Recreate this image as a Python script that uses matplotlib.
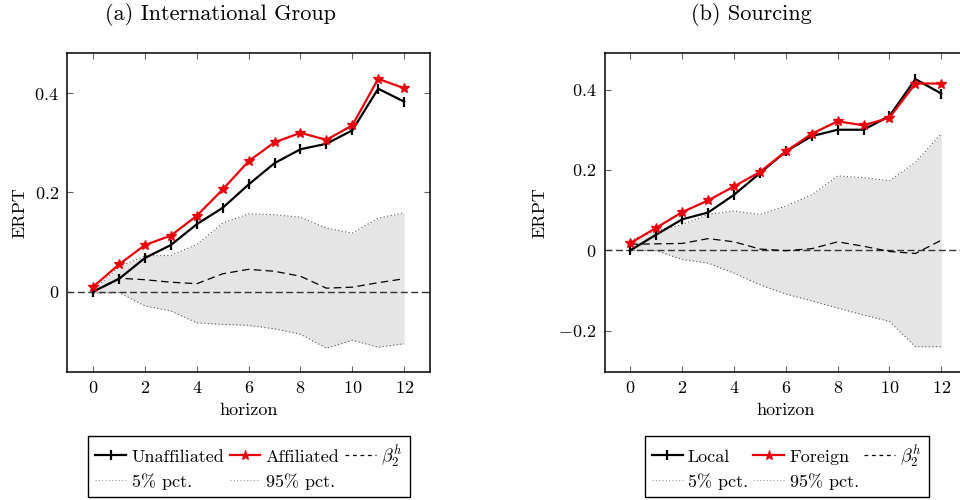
import matplotlib
matplotlib.use("Agg")
import matplotlib.pyplot as plt
from matplotlib.lines import Line2D
from matplotlib.ticker import FuncFormatter

plt.rcParams['font.family'] = 'serif'
plt.rcParams['font.serif'] = ['cmr10', 'DejaVu Serif']
plt.rcParams['mathtext.fontset'] = 'cm'
plt.rcParams['axes.formatter.use_mathtext'] = True
plt.rcParams['font.size'] = 13

# ---------------- data ----------------
horizon = list(range(13))

# (a) International Group
unaffiliated = [0.000, 0.026, 0.068, 0.094, 0.136, 0.169, 0.216, 0.259, 0.287, 0.298, 0.325, 0.409, 0.383]
affiliated = [0.010, 0.055, 0.094, 0.113, 0.153, 0.206, 0.263, 0.301, 0.320, 0.306, 0.335, 0.429, 0.410]
beta_a = [0.000, 0.027, 0.024, 0.019, 0.016, 0.036, 0.045, 0.041, 0.031, 0.007, 0.009, 0.018, 0.026]
p95_a = [0.003, 0.050, 0.072, 0.073, 0.095, 0.138, 0.157, 0.155, 0.150, 0.128, 0.118, 0.148, 0.159]
p5_a = [-0.003, -0.002, -0.029, -0.039, -0.063, -0.066, -0.068, -0.075, -0.086, -0.114, -0.098, -0.112, -0.105]

# (b) Sourcing
local = [0.000, 0.039, 0.077, 0.094, 0.138, 0.192, 0.246, 0.284, 0.300, 0.300, 0.334, 0.426, 0.390]
foreign = [0.018, 0.056, 0.095, 0.124, 0.159, 0.195, 0.246, 0.290, 0.321, 0.311, 0.330, 0.415, 0.415]
beta_b = [0.015, 0.016, 0.017, 0.029, 0.021, 0.003, -0.001, 0.004, 0.021, 0.010, -0.003, -0.008, 0.025]
p95_b = [0.025, 0.048, 0.064, 0.089, 0.098, 0.089, 0.110, 0.138, 0.185, 0.181, 0.173, 0.219, 0.290]
p5_b = [0.000, -0.001, -0.023, -0.032, -0.057, -0.086, -0.109, -0.126, -0.144, -0.161, -0.177, -0.240, -0.240]

titles = ['(a) International Group', '(b) Sourcing']
series_names = [('Unaffiliated', 'Affiliated'), ('Local', 'Foreign')]
xticks = [0, 2, 4, 6, 8, 10, 12]
yticks_a = [0, 0.2, 0.4]
yticks_b = [-0.2, 0, 0.2, 0.4]

# ---------------- figure ----------------
W, H = 960, 500
fig = plt.figure(figsize=(W / 100, H / 100), dpi=100)


def px(x0, y0, x1, y1):
    return [x0 / W, 1 - y1 / H, (x1 - x0) / W, (y1 - y0) / H]


ax_a = fig.add_axes(px(67.3, 53, 430, 372))
ax_b = fig.add_axes(px(604.5, 53, 967.2, 372))

BAND = '#e5e5e5'
RED = '#e8000b'


def fmt(v, pos):
    if abs(v) < 1e-9:
        return '$0$'
    return '$%.1f$' % v


def draw(ax, s1, s2, beta, p5, p95, ylim, yticks, names, title, title_x, ylab_x, leg_x):
    ax.fill_between(horizon, p5, p95, color=BAND, lw=0, zorder=1)
    ax.plot(horizon, p5, color='#555555', lw=0.8, ls=(0, (1, 2.2)), zorder=2)
    ax.plot(horizon, p95, color='#555555', lw=0.8, ls=(0, (1, 2.2)), zorder=2)
    ax.axhline(0, color='#333333', lw=1.0, ls=(0, (5, 2.5)), zorder=3)
    ax.plot(horizon, beta, color='black', lw=0.9, ls=(0, (6, 3.5)), zorder=3)
    ax.plot(horizon, s1, color='black', lw=1.6, marker='|', ms=6.5, mew=1.6, zorder=5)
    ax.plot(horizon, s2, color=RED, lw=1.6, marker='*', ms=7.5, mew=0.9, zorder=6)

    ax.set_xlim(-1, 13)
    ax.set_ylim(*ylim)
    ax.set_xticks(xticks)
    ax.set_yticks(yticks)
    ax.yaxis.set_major_formatter(FuncFormatter(fmt))
    ax.xaxis.set_major_formatter(FuncFormatter(lambda v, p: '$%d$' % v))
    ax.tick_params(direction='in', top=True, right=True, length=4.5, width=0.8,
                   color='#666666', labelsize=13, pad=6)
    for sp in ax.spines.values():
        sp.set_linewidth(1.1)
        sp.set_color('black')

    ax.set_xlabel('horizon', fontsize=13, va='top')
    ax.xaxis.set_label_coords(0.5, -0.095)
    ax.set_ylabel('ERPT', fontsize=13, va='center')
    ax.yaxis.set_label_coords(ylab_x, 0.5)

    fig.text(title_x / W, 1 - 15 / H, title, ha='center', va='center', fontsize=16)

    h1 = Line2D([], [], color='black', lw=1.6, marker='|', ms=6.5, mew=1.6)
    h2 = Line2D([], [], color=RED, lw=1.6, marker='*', ms=6.5, mew=0.8)
    hb = Line2D([], [], color='black', lw=0.9, ls=(0, (3, 3)))
    h5 = Line2D([], [], color='#999999', lw=0.8, ls=(0, (1, 2)))
    h95 = Line2D([], [], color='#999999', lw=0.8, ls=(0, (1, 2)))
    handles = [h1, h5, h2, h95, hb]
    labels = [names[0], '5% pct.', names[1], '95% pct.', r'$\beta_2^h$']
    leg = fig.legend(handles, labels, loc='upper center', bbox_to_anchor=(leg_x / W, 1 - 436 / H),
                     ncol=3, fontsize=13, frameon=True, fancybox=False, edgecolor='black',
                     framealpha=1, handlelength=1.7, handletextpad=0.3, columnspacing=0.3,
                     labelspacing=0.45, borderpad=0.4, borderaxespad=0)
    leg.get_frame().set_linewidth(1.0)


draw(ax_a, unaffiliated, affiliated, beta_a, p5_a, p95_a, (-0.162, 0.481), yticks_a,
     series_names[0], titles[0], 220, -0.132, 249)
draw(ax_b, local, foreign, beta_b, p5_b, p95_b, (-0.303, 0.491), yticks_b,
     series_names[1], titles[1], 751, -0.178, 786.7)

fig.savefig('out.png', dpi=100)
